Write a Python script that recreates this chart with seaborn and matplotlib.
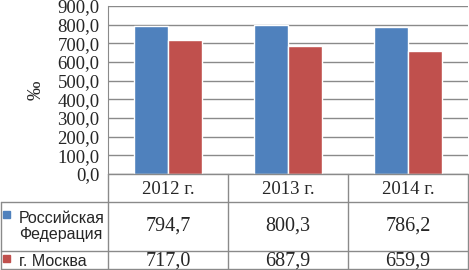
import pandas as pd
import numpy as np
import seaborn as sns
import matplotlib
matplotlib.use('Agg')
import matplotlib.pyplot as plt

# Data
years = ['2012 г.', '2013 г.', '2014 г.']
series = ['Российская\nФедерация', 'г. Москва']
rf_values = [794.7, 800.3, 786.2]
msk_values = [717.0, 687.9, 659.9]
colors = ['#4F81BD', '#C0504D']

df = pd.DataFrame({
    'year': years * 2,
    'series': [series[0]] * 3 + [series[1]] * 3,
    'value': rf_values + msk_values,
})

sns.set_style('white')
plt.rcParams['font.family'] = ['Liberation Serif', 'DejaVu Serif']

W, H = 469, 270
fig = plt.figure(figsize=(W / 100, H / 100), dpi=100)

# plot area in pixel coords
left, right, top, bottom = 108, 468, 6, 174
ax = fig.add_axes([left / W, 1 - bottom / H, (right - left) / W, (bottom - top) / H])

sns.barplot(data=df, x='year', y='value', hue='series', palette=colors,
            width=0.57, saturation=1, ax=ax, zorder=3)
ax.legend_.remove()
ax.set_xlim(-0.5, 2.5)
ax.set_ylim(0, 900)
ax.set_yticks(np.arange(0, 901, 100))
ax.set_yticklabels([f'{v:.1f}'.replace('.', ',') for v in np.arange(0, 901, 100)], fontsize=13.5)
ax.set_xticks([])
ax.set_xlabel('')
ax.set_ylabel('‰', fontsize=14, labelpad=9)
ax.grid(axis='y', color='#8a8a8a', lw=1, zorder=0)
for s in ['top', 'right', 'bottom']:
    ax.spines[s].set_visible(False)
ax.spines['left'].set_color('#8a8a8a')
ax.tick_params(axis='y', length=4, color='#8a8a8a', pad=2)

# data table underneath, drawn in pixel coords
tb = fig.add_axes([0, 0, 1, 1], facecolor='none')
tb.set_xlim(0, W)
tb.set_ylim(H, 0)
tb.axis('off')
lc = '#8a8a8a'
cols = [108, 228, 348, 468]
r0, r1, r2, r3 = 174, 202, 251, 269
tb.plot([108, 468], [r0, r0], color=lc, lw=1)
tb.plot([1, 468], [r1, r1], color=lc, lw=1)
tb.plot([1, 468], [r2, r2], color=lc, lw=1)
tb.plot([1, 468], [r3, r3], color=lc, lw=1)
tb.plot([1, 1], [r1, r3], color=lc, lw=1)
for x in cols:
    tb.plot([x, x], [r0, r3], color=lc, lw=1)

centers = [(cols[i] + cols[i + 1]) / 2 for i in range(3)]
for cx, yr in zip(centers, years):
    tb.text(cx, (r0 + r1) / 2 + 1, yr, ha='center', va='center', fontsize=13.5)
for cx, v in zip(centers, rf_values):
    tb.text(cx, (r1 + r2) / 2, f'{v:.1f}'.replace('.', ','), ha='center', va='center', fontsize=14.5)
for cx, v in zip(centers, msk_values):
    tb.text(cx, (r2 + r3) / 2 + 1, f'{v:.1f}'.replace('.', ','), ha='center', va='center', fontsize=14.5)

tb.add_patch(plt.Rectangle((3, 211), 7, 7, color=colors[0]))
tb.add_patch(plt.Rectangle((3, 255), 7, 7, color=colors[1]))
tb.text(19, (r1 + r2) / 2, series[0], ha='left', va='center', fontsize=11.5,
        family=['Liberation Sans'], linespacing=1.15)
tb.text(19, (r2 + r3) / 2 + 1, series[1], ha='left', va='center', fontsize=11.5,
        family=['Liberation Sans'])

fig.savefig('out.png', dpi=100)
